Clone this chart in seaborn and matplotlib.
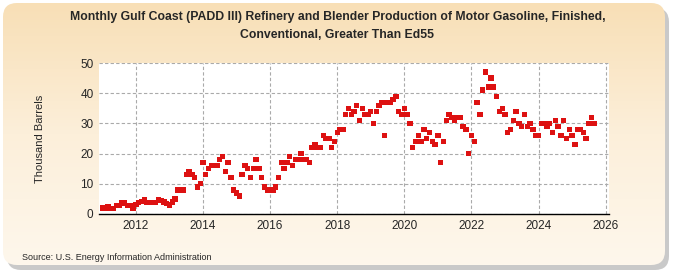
import numpy as np
import pandas as pd
import seaborn as sns
import matplotlib.pyplot as plt
from matplotlib.patches import FancyBboxPatch
from matplotlib.colors import LinearSegmentedColormap

sns.set_style('white')
plt.rcParams['font.family'] = ['Liberation Sans Narrow', 'Liberation Sans', 'DejaVu Sans']

# monthly values, thousand barrels, Jan 2011 onward
v2011 = [2.0, 2.0, 2.5, 1.8, 1.8, 2.9, 2.9, 3.8, 3.6, 2.9, 2.9, 1.8]
v2012 = [3.1, 3.8, 4.2, 4.9, 3.8, 3.8, 3.8, 3.8, 4.9, 4.5, 4.0, 3.5]
v2013 = [3.0, 4.0, 5.0, 8.0, 8.0, 8.0, 13.0, 14.0, 13.0, 12.0, 9.0, 10.0]
v2014 = [17.0, 13.0, 15.0, 16.0, 16.0, 16.0, 18.0, 19.0, 14.0, 17.0, 12.0, 8.0]
v2015 = [7.0, 6.0, 13.0, 16.0, 15.0, 12.0, 15.0, 18.0, 15.0, 12.0, 9.0, 8.0]
v2016 = [8.0, 8.0, 9.0, 12.0, 17.0, 15.0, 17.0, 19.0, 16.0, 18.0, 18.0, 20.0]
v2017 = [18.0, 18.0, 17.0, 22.0, 23.0, 22.0, 22.0, 26.0, 25.0, 25.0, 22.0, 24.0]
v2018 = [27.0, 28.0, 28.0, 33.0, 35.0, 33.0, 34.0, 36.0, 31.0, 35.0, 33.0, 33.0]
v2019 = [34.0, 30.0, 34.0, 36.0, 37.0, 26.0, 37.0, 37.0, 38.0, 39.0, 34.0, 33.0]
v2020 = [35.0, 33.0, 30.0, 22.0, 24.0, 26.0, 24.0, 28.0, 25.0, 27.0, 24.0, 23.0]
v2021 = [26.0, 17.0, 24.0, 31.0, 33.0, 32.0, 31.0, 32.0, 32.0, 29.0, 28.0, 20.0]
v2022 = [26.0, 24.0, 37.0, 33.0, 41.0, 47.0, 42.0, 45.0, 42.0, 39.0, 34.0, 35.0]
v2023 = [33.0, 27.0, 28.0, 31.0, 34.0, 30.0, 29.0, 33.0, 29.0, 30.0, 28.0, 26.0]
v2024 = [26.0, 30.0, 30.0, 29.0, 30.0, 27.0, 31.0, 29.0, 26.0, 31.0, 25.0, 28.0]
v2025 = [26.0, 23.0, 28.0, 28.0, 27.0, 25.0, 30.0, 32.0, 30.0]

values = (v2011 + v2012 + v2013 + v2014 + v2015 + v2016 + v2017 + v2018
          + v2019 + v2020 + v2021 + v2022 + v2023 + v2024 + v2025)
dates = pd.date_range('2011-01-01', periods=len(values), freq='MS')
df = pd.DataFrame({'year': dates.year + (dates.month - 1) / 12, 'kbbl': values})

x_ticks = list(range(2012, 2027, 2))
y_ticks = list(range(0, 51, 10))

fig = plt.figure(figsize=(6.75, 2.75), dpi=100)
fig.patch.set_facecolor('white')

# beige rounded panel with a soft shadow
bg = fig.add_axes([0, 0, 1, 1], zorder=0)
bg.set_axis_off()
shadow = FancyBboxPatch((7, 8), 662, 262, boxstyle='round,pad=0,rounding_size=14',
                        fc='#c9c9c9', ec='none', zorder=0)
bg.add_patch(shadow)
panel = FancyBboxPatch((3, 3), 662, 262, boxstyle='round,pad=0,rounding_size=14',
                       fc='none', ec='none', zorder=1)
bg.add_patch(panel)
cmap = LinearSegmentedColormap.from_list('bg', ['#f8dfb6', '#fcefda', '#fef7ec'])
grad = np.linspace(0, 1, 256).reshape(-1, 1)
im = bg.imshow(grad, extent=[3, 665, 265, 3], cmap=cmap, aspect='auto', zorder=2)
im.set_clip_path(panel)
bg.set_xlim(0, 675)
bg.set_ylim(275, 0)

ax = fig.add_axes([99 / 675, 61 / 275, 510 / 675, 151 / 275], zorder=1)
ax.set_facecolor('white')
sns.scatterplot(data=df, x='year', y='kbbl', marker='s', s=15, color='#dd1111',
                edgecolor='none', linewidth=0, ax=ax, zorder=3)

ax.set_xlim(2010.9, 2026.1)
ax.set_ylim(0, 50)
ax.set_xticks(x_ticks)
ax.set_yticks(y_ticks)
ax.grid(True, ls=(0, (3, 2)), color='#aaaaaa', lw=0.8)
for side in ['left', 'top', 'right']:
    ax.spines[side].set_visible(False)
ax.spines['bottom'].set_color('black')
ax.spines['bottom'].set_linewidth(1.0)
ax.tick_params(axis='both', labelsize=8.5, length=0, pad=4)
ax.set_xlabel('')
ax.set_ylabel('Thousand Barrels', fontsize=8)
ax.yaxis.set_label_coords(-0.105, 0.5)

fig.text(0.5, 1 - 17 / 275,
         'Monthly Gulf Coast (PADD III) Refinery and Blender Production of Motor Gasoline, Finished,',
         ha='center', va='center', fontsize=8.8, fontweight='bold')
fig.text(0.5, 1 - 35 / 275, 'Conventional, Greater Than Ed55',
         ha='center', va='center', fontsize=8.8, fontweight='bold')
fig.text(22 / 675, 1 - 258 / 275, 'Source: U.S. Energy Information Administration',
         ha='left', va='center', fontsize=6.5)

fig.savefig('out.png', dpi=100)
